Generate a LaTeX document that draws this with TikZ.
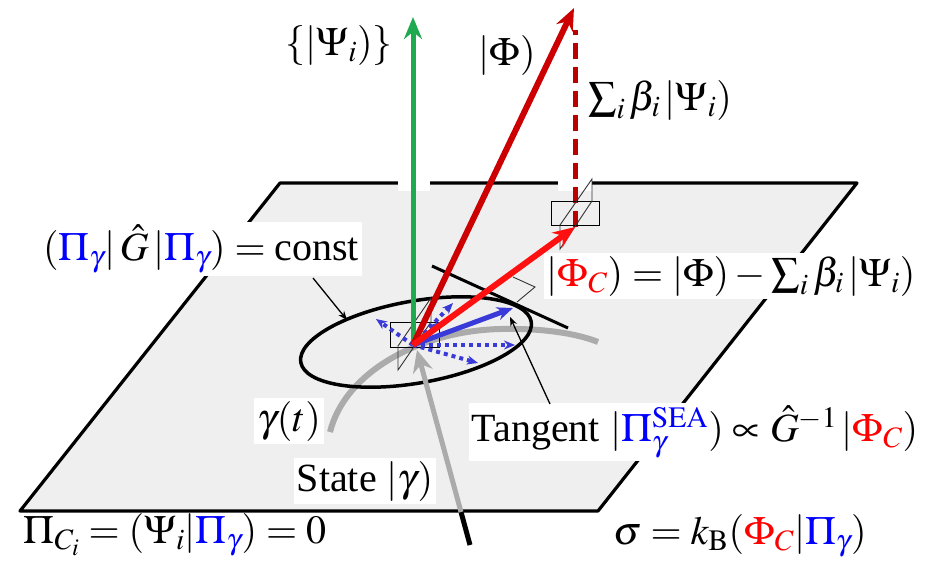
\documentclass[tikz,border=0pt]{standalone}
\usepackage{mathptmx}
\usepackage{fontspec}
\setmainfont{Liberation Serif}
\usetikzlibrary{arrows.meta}
\definecolor{pgray}{HTML}{EFEFEF}
\definecolor{grn}{HTML}{1FAA4F}
\definecolor{dred}{HTML}{CC0000}
\definecolor{bred}{HTML}{FF1010}
\definecolor{dashred}{HTML}{BB0000}
\definecolor{arrblue}{HTML}{3A3AD8}
\definecolor{tblue}{HTML}{0000FF}
\definecolor{tred}{HTML}{FF0000}
\definecolor{curvegray}{HTML}{ABABAB}
\newcommand\PgB{{\color{tblue}\Pi_\gamma}}
\newcommand\PhC{{\color{tred}\Phi_C}}
\tikzset{
  lbl/.style={fill=white,inner sep=3pt,font=\fontsize{40}{46}\selectfont},
  plainlbl/.style={inner sep=2pt,font=\fontsize{40}{46}\selectfont},
  bigtip/.style={-{Stealth[length=22pt,width=18pt]}},
  midtip/.style={-{Stealth[length=16pt,width=13pt]}},
  smalltip/.style={-{Stealth[length=11pt,width=9pt]}},
  thinptr/.style={line width=1.3pt,-{Stealth[length=9pt,width=7pt]}},
  rightmark/.style={line width=0.9pt,draw=black!80},
  edge/.style={line width=3.2pt,line join=round}
}
\begin{document}
\begin{tikzpicture}[x=1pt,y=-1pt]
\useasboundingbox (0,0) rectangle (932,563);
% plane
\coordinate (P1) at (20,511);
\coordinate (P2) at (598,511);
\coordinate (P3) at (857,183);
\coordinate (P4) at (280,183);
\fill[pgray] (P1) -- (P2) -- (P3) -- (P4) -- cycle;
\draw[edge] (P1) -- (P2) -- (P3) -- (P4) -- cycle;
% gaps in the top edge
\fill[white] (398,176) rectangle (430,191);
\fill[white] (558,176) rectangle (592,191);
% key points
\coordinate (O) at (413,345);
\coordinate (G) at (413,17);
\coordinate (F) at (574,8);
\coordinate (FC) at (575,227);
\coordinate (FD) at (575,30);
% trajectory curve
\draw[curvegray,line width=6pt] (330,432) .. controls (345,372) and (420,331) .. (500,329) .. controls (545,328) and (578,334) .. (598,342);
% ellipse
\draw[line width=3.5pt,rotate around={10:(416,342)}] (416,342) ellipse [x radius=117pt, y radius=41pt];
% tangent line
\coordinate (T1) at (432,266);
\coordinate (T2) at (568,328);
\draw[line width=3pt] (T1) -- (T2);
\draw[rightmark] (513,277) -- (535,287) -- (517,302);
% right angle marks at O
\draw[line width=0.9pt] (390,322) rectangle (439,347);
\draw[rightmark] (431,298) -- (431,322) -- (398,370) -- (398,346) -- cycle;
% blue arrows
\draw[arrblue,line width=4pt,dash pattern=on 4pt off 4pt,smalltip] (O) -- (376,319);
\draw[arrblue,line width=4pt,dash pattern=on 4pt off 4pt,smalltip] (O) -- (453,303);
\draw[arrblue,line width=4pt,dash pattern=on 4pt off 4pt,smalltip] (O) -- (440,322);
\draw[arrblue,line width=4pt,dash pattern=on 4pt off 4pt,smalltip] (O) -- (515,345);
\draw[arrblue,line width=4pt,dash pattern=on 4pt off 4pt,smalltip] (O) -- (478,363);
\draw[arrblue,line width=5pt,midtip] (O) -- (513,308);
% state line
\coordinate (S0) at (470,545);
\coordinate (S1) at (461,512);
\draw[line width=5pt] (S0) -- (S1);
\draw[curvegray,line width=5pt,-{Stealth[length=22pt,width=20pt]}] (S1) -- (417,350);
% green arrow
\draw[grn,line width=5pt,bigtip] (O) -- (G);
% red arrows
\draw[dred,line width=6pt,bigtip] (O) -- (F);
\draw[dashred,line width=5pt,dash pattern=on 16pt off 8pt] (FC) -- (FD);
\draw[line width=0.9pt] (551,201) rectangle (599,225);
\draw[rightmark] (592,179) -- (592,201) -- (560,249) -- (560,225) -- cycle;
\draw[bred,line width=6pt,bigtip] (O) -- (FC);
% labels
\node[plainlbl] (lpsi) at (339,45) {$\{|\Psi_i)\}$};
\node[plainlbl] (lphi) at (507,55) {$|\Phi)$};
\node[plainlbl] (lsum) at (660,100) {$\sum_i\beta_i\,|\Psi_i)$};
\node[lbl] (lconst) at (201,249) {$(\PgB|\,\hat G\,|\PgB) = \textrm{const}$};
\node[lbl] (lphic) at (731,276) {$|\PhC) = |\Phi) - \sum_i\beta_i\,|\Psi_i)$};
\node[lbl] (lgam) at (289,421) {$\gamma(t)$};
\node[lbl] (lstate) at (365,481) {State $|\gamma)$};
\node[lbl] (ltan) at (695,432) {Tangent $|{\color{tblue}\Pi_\gamma^{\mathrm{SEA}}})\propto\hat G^{-1}\,|\PhC)$};
\node[plainlbl] (lpic) at (175,535) {$\Pi_{C_i} = (\Psi_i|\PgB) = 0$};
\node[plainlbl] (lsig) at (740,536) {$\sigma = k_{\mathrm B}(\PhC|\PgB)$};
% pointers
\coordinate (E1) at (347,320);
\coordinate (E2) at (510,317);
\draw[thinptr] (313,278) -- (E1);
\draw[thinptr] (550,404) -- (E2);
\end{tikzpicture}
\end{document}
